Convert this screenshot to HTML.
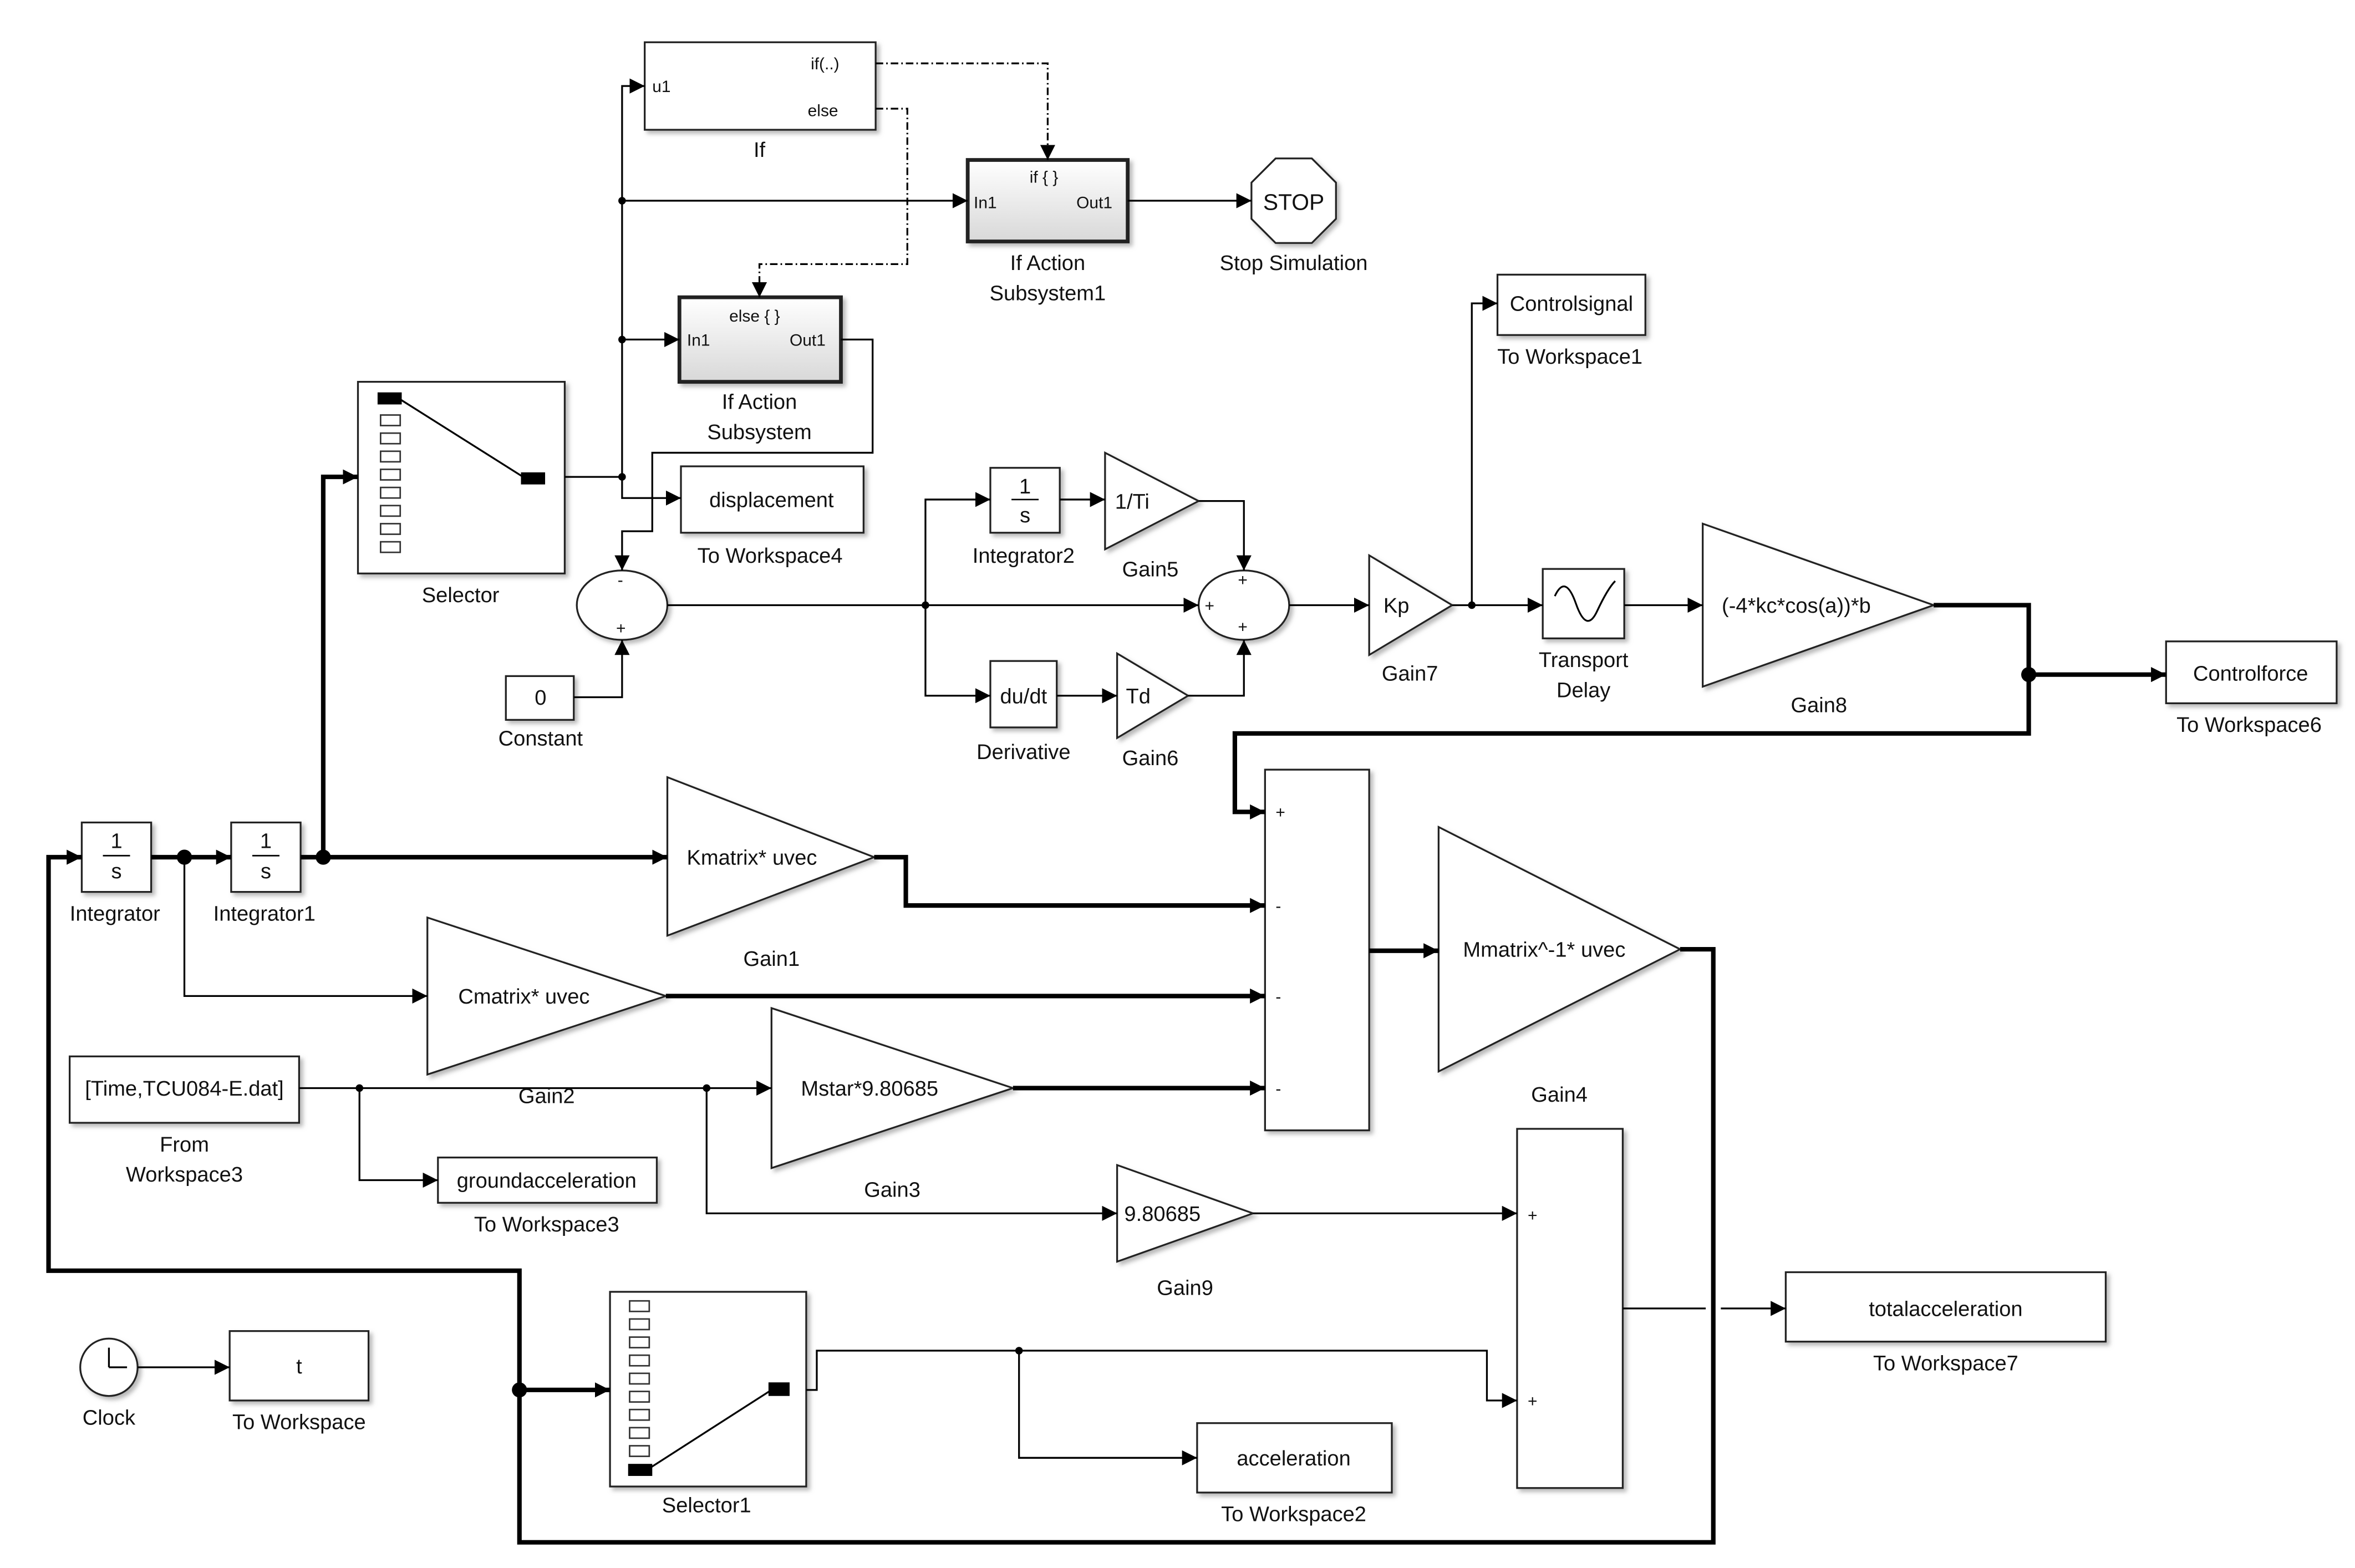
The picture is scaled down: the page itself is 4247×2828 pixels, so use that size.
<!DOCTYPE html>
<html><head><meta charset="utf-8"><style>html,body{margin:0;padding:0;background:#fff}svg{display:block}text{font-family:"Liberation Sans",sans-serif;fill:#111}</style></head>
<body>
<svg width="4247" height="2828" viewBox="0 0 1560 1039" xmlns="http://www.w3.org/2000/svg">
<defs>
<marker id="a" viewBox="0 0 10 10" refX="10" refY="5" markerWidth="10" markerHeight="10" markerUnits="userSpaceOnUse" orient="auto"><path d="M0,0L10,5L0,10z" fill="#000"/></marker>
<linearGradient id="g" x1="0" y1="0" x2="0" y2="1"><stop offset="0" stop-color="#fff"/><stop offset="1" stop-color="#d8d8d8"/></linearGradient>
<filter id="s" x="-10%" y="-10%" width="130%" height="130%"><feDropShadow dx="2" dy="2" stdDeviation="1.5" flood-color="#888" flood-opacity="0.6"/></filter>
</defs>
<g fill="#fff" stroke="#222" stroke-width="1.2" filter="url(#s)">
<rect x="427" y="28" width="153" height="58"/>
<rect x="641" y="106" width="106" height="54" fill="url(#g)" stroke-width="2.5"/>
<polygon points="845,105 869,105 885,121 885,145 869,161 845,161 829,145 829,121"/>
<rect x="450" y="197" width="107" height="56" fill="url(#g)" stroke-width="2.5"/>
<rect x="237" y="253" width="137" height="127"/>
<rect x="451" y="309" width="121" height="44"/>
<ellipse cx="412" cy="401" rx="30" ry="23"/>
<rect x="335" y="448" width="45" height="29"/>
<rect x="656" y="310" width="46" height="43"/>
<polygon points="732,300 794,332 732,364"/>
<ellipse cx="824" cy="401" rx="30" ry="23"/>
<rect x="656" y="438" width="44" height="44"/>
<polygon points="740,433 787,461 740,489"/>
<polygon points="907,368 962,401 907,434"/>
<rect x="992" y="182" width="98" height="40"/>
<rect x="1022" y="377" width="54" height="46"/>
<polygon points="1128,347 1281,401 1128,455"/>
<rect x="1435" y="425" width="113" height="41"/>
<rect x="54" y="545" width="46" height="46"/>
<rect x="153" y="545" width="46" height="46"/>
<polygon points="442,515 579,568 442,620"/>
<polygon points="283,608 441,660 283,712"/>
<rect x="838" y="510" width="69" height="239"/>
<polygon points="953,548 1113,629 953,710"/>
<rect x="46" y="700" width="152" height="44"/>
<rect x="290" y="767" width="145" height="30"/>
<polygon points="511,668 671,721 511,774"/>
<polygon points="740,772 830,804 740,836"/>
<rect x="1005" y="748" width="70" height="238"/>
<rect x="1183" y="843" width="212" height="46"/>
<circle cx="72" cy="906" r="19"/>
<rect x="152" y="882" width="92" height="46"/>
<rect x="404" y="856" width="130" height="129"/>
<rect x="793" y="943" width="129" height="46"/>
</g>
<!-- selector internals -->
<g fill="#fff" stroke="#333" stroke-width="1">
<rect x="252" y="275" width="13" height="7"/><rect x="252" y="287" width="13" height="7"/><rect x="252" y="299" width="13" height="7"/><rect x="252" y="311" width="13" height="7"/><rect x="252" y="323" width="13" height="7"/><rect x="252" y="335" width="13" height="7"/><rect x="252" y="347" width="13" height="7"/><rect x="252" y="359" width="13" height="7"/>
<rect x="417" y="862" width="13" height="7"/><rect x="417" y="874" width="13" height="7"/><rect x="417" y="886" width="13" height="7"/><rect x="417" y="898" width="13" height="7"/><rect x="417" y="910" width="13" height="7"/><rect x="417" y="922" width="13" height="7"/><rect x="417" y="934" width="13" height="7"/><rect x="417" y="946" width="13" height="7"/><rect x="417" y="958" width="13" height="7"/>
</g>
<g fill="#000"><rect x="250" y="260" width="16" height="8"/><rect x="345" y="313" width="16" height="8"/><rect x="416" y="970" width="16" height="8"/><rect x="509" y="916" width="14" height="9"/></g>
<g stroke="#000" stroke-width="1.2" fill="none">
<line x1="264" y1="264" x2="348" y2="317"/><line x1="430" y1="973" x2="511" y2="921"/>
<!-- clock -->
<line x1="72" y1="906" x2="72" y2="893"/><line x1="72" y1="906" x2="84" y2="906"/>
<!-- transport delay icon -->
<path d="M1030,395 Q1037,380 1044,400 T1058,405 T1070,385"/>
</g>
<!-- thin wires -->
<g stroke="#000" stroke-width="1.2" fill="none" marker-end="url(#a)">
<path d="M374,316H412V57H427"/>
<path d="M412,133H641"/>
<path d="M412,225H450"/>
<path d="M412,316V330H451"/>
<path d="M557,225H578V300H432V352H412V378"/>
<path d="M747,133H829"/>
<path d="M380,462H412V424"/>
<path d="M442,401H794"/>
<path d="M613,401V331H656"/>
<path d="M702,331H732"/>
<path d="M794,332H824V378"/>
<path d="M613,401V461H656"/>
<path d="M700,461H740"/>
<path d="M787,461H824V424"/>
<path d="M854,401H907"/>
<path d="M962,401H1022"/>
<path d="M975,401V201H992"/>
<path d="M1076,401H1128"/>
<path d="M198,721H511"/>
<path d="M238,721V782H290"/>
<path d="M468,721V804H740"/>
<path d="M830,804H1005"/>
<path d="M534,921H541V895H985V928H1005"/>
<path d="M675,895V966H793"/>
<path d="M1075,867H1130M1140,867H1183"/>
<path d="M91,906H152"/>
<path d="M122,568V660H283"/>
</g>
<g stroke="#000" stroke-width="1.2" fill="none" stroke-dasharray="5,2,1,2" marker-end="url(#a)">
<path d="M580,42H694V106"/>
<path d="M580,72H601V175H503V197"/>
</g>
<!-- thick wires -->
<g stroke="#000" stroke-width="3" fill="none" marker-end="url(#a)">
<path d="M199,568H442"/>
<path d="M214,568V316H237"/>
<path d="M100,568H153"/>
<path d="M579,568H600V600H838"/>
<path d="M441,660H838"/>
<path d="M671,721H838"/>
<path d="M907,630H953"/>
<path d="M1113,629H1135V1022H344V842H32V568H54"/>
<path d="M344,921H404"/>
<path d="M1281,401H1344V447H1435"/>
<path d="M1344,447V486H818V538H838"/>
</g>
<g fill="#000">
<circle cx="412" cy="133" r="2.5"/><circle cx="412" cy="225" r="2.5"/><circle cx="412" cy="316" r="2.5"/>
<circle cx="613" cy="401" r="2.5"/><circle cx="975" cy="401" r="2.5"/><circle cx="238" cy="721" r="2.5"/><circle cx="468" cy="721" r="2.5"/><circle cx="675" cy="895" r="2.5"/>
<circle cx="214" cy="568" r="5"/><circle cx="122" cy="568" r="5"/><circle cx="344" cy="921" r="5"/><circle cx="1344" cy="447" r="5"/>
</g>
<g font-size="14" text-anchor="middle">
<text x="503" y="104">If</text>
<text x="694" y="179">If Action</text><text x="694" y="199">Subsystem1</text>
<text x="857" y="139" font-size="15">STOP</text><text x="857" y="179">Stop Simulation</text>
<text x="503" y="271">If Action</text><text x="503" y="291">Subsystem</text>
<text x="305" y="399">Selector</text>
<text x="511" y="336">displacement</text><text x="510" y="373">To Workspace4</text>
<text x="358" y="467">0</text><text x="358" y="494">Constant</text>
<text x="678" y="373">Integrator2</text>
<text x="750" y="337">1/Ti</text><text x="762" y="382">Gain5</text>
<text x="678" y="466">du/dt</text><text x="678" y="503">Derivative</text>
<text x="754" y="466">Td</text><text x="762" y="507">Gain6</text>
<text x="925" y="406">Kp</text><text x="934" y="451">Gain7</text>
<text x="1041" y="206">Controlsignal</text><text x="1040" y="241">To Workspace1</text>
<text x="1049" y="442">Transport</text><text x="1049" y="462">Delay</text>
<text x="1190" y="406">(-4*kc*cos(a))*b</text><text x="1205" y="472">Gain8</text>
<text x="1491" y="451">Controlforce</text><text x="1490" y="485">To Workspace6</text>
<text x="76" y="610">Integrator</text><text x="175" y="610">Integrator1</text>
<text x="498" y="573">Kmatrix* uvec</text><text x="511" y="640">Gain1</text>
<text x="347" y="665">Cmatrix* uvec</text><text x="362" y="731">Gain2</text>
<text x="1023" y="634">Mmatrix^-1* uvec</text><text x="1033" y="730">Gain4</text>
<text x="122" y="726">[Time,TCU084-E.dat]</text><text x="122" y="763">From</text><text x="122" y="783">Workspace3</text>
<text x="362" y="787">groundacceleration</text><text x="362" y="816">To Workspace3</text>
<text x="576" y="726">Mstar*9.80685</text><text x="591" y="793">Gain3</text>
<text x="770" y="809">9.80685</text><text x="785" y="858">Gain9</text>
<text x="1289" y="872">totalacceleration</text><text x="1289" y="908">To Workspace7</text>
<text x="72" y="944">Clock</text>
<text x="198" y="910">t</text><text x="198" y="947">To Workspace</text>
<text x="468" y="1002">Selector1</text>
<text x="857" y="971">acceleration</text><text x="857" y="1008">To Workspace2</text>
</g>
<g font-size="11">
<text x="432" y="61">u1</text><text x="537" y="46">if(..)</text><text x="535" y="77">else</text>
<text x="682" y="121">if { }</text><text x="645" y="138">In1</text><text x="713" y="138">Out1</text>
<text x="483" y="213">else { }</text><text x="455" y="229">In1</text><text x="523" y="229">Out1</text>
<text x="409" y="388">-</text><text x="408" y="420">+</text>
<text x="820" y="388">+</text><text x="798" y="405">+</text><text x="820" y="419">+</text>
<text x="845" y="542">+</text><text x="845" y="604">-</text><text x="845" y="664">-</text><text x="845" y="725">-</text>
<text x="1012" y="809">+</text><text x="1012" y="932">+</text>
</g>
<g font-size="14" text-anchor="middle"><text x="679" y="327">1</text><text x="679" y="346">s</text><text x="77" y="562">1</text><text x="77" y="582">s</text><text x="176" y="562">1</text><text x="176" y="582">s</text></g>
<g stroke="#000" stroke-width="1"><line x1="670" y1="331" x2="688" y2="331"/><line x1="68" y1="567" x2="86" y2="567"/><line x1="167" y1="567" x2="185" y2="567"/></g>
</svg>
</body></html>
